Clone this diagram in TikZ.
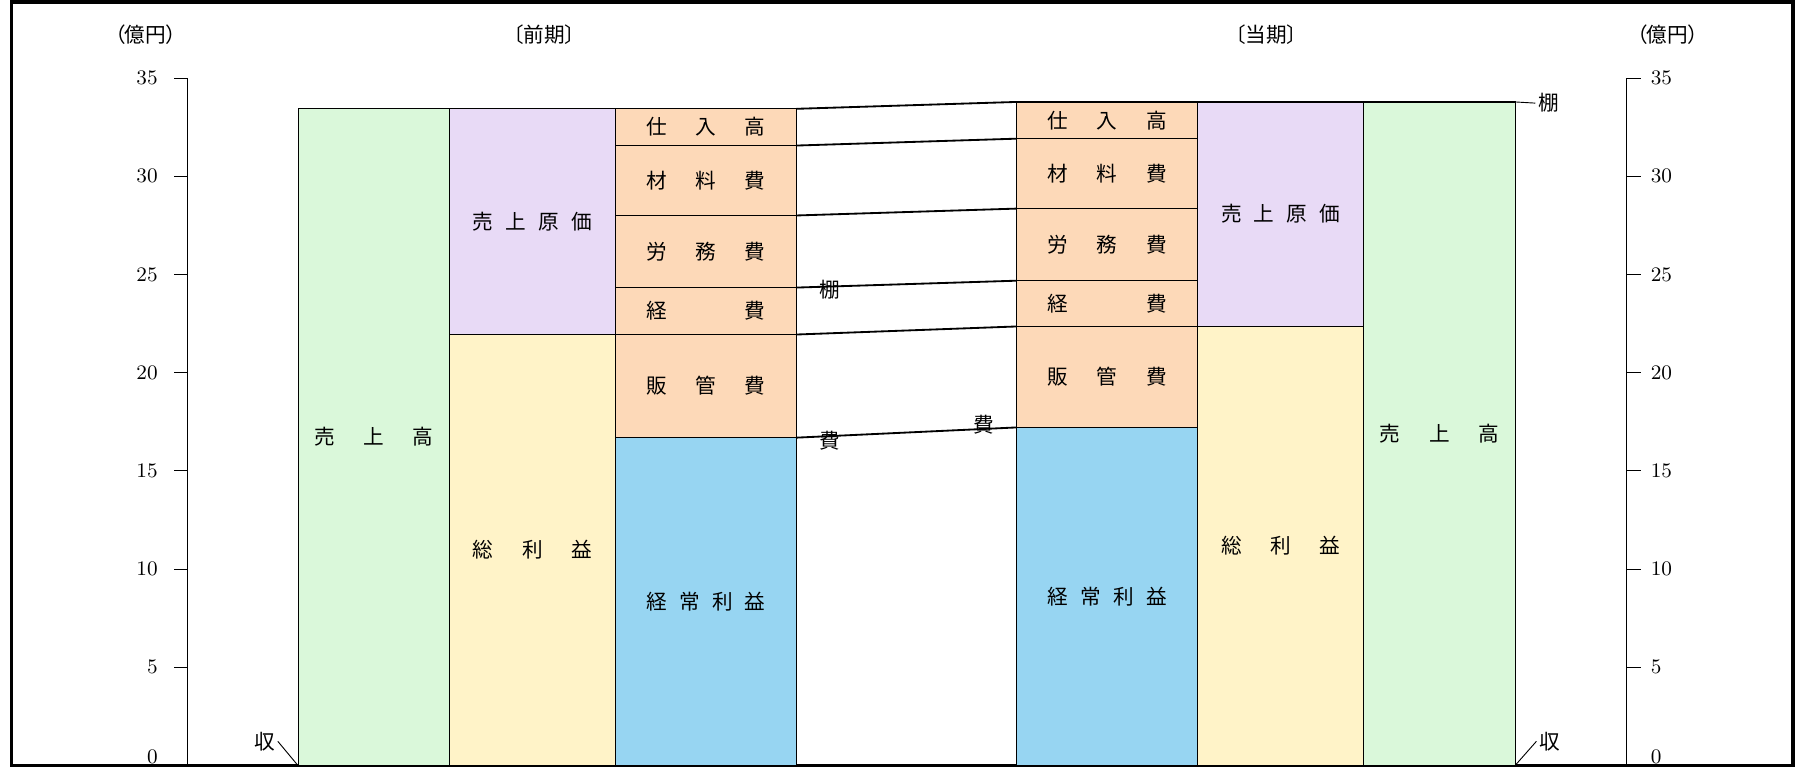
\documentclass[tikz,border=0pt]{standalone}
\usepackage{fontspec}
\newfontfamily\jp{Noto Sans CJK JP}
\newfontfamily\jpp[RawFeature=+palt]{Noto Sans CJK JP}
\newcommand\spread[1]{\makebox[52pt][s]{#1}}
\definecolor{uriage}{RGB}{218,248,218}
\definecolor{genka}{RGB}{232,218,246}
\definecolor{rieki}{RGB}{255,243,200}
\definecolor{hiyou}{RGB}{253,217,184}
\definecolor{keijou}{RGB}{151,213,242}
\tikzset{
  box/.style={draw=black, line width=0.4pt},
  lbl/.style={font=\jp\fontsize{9}{10}\selectfont, inner sep=1pt},
  ttl/.style={font=\jpp\fontsize{9}{10}\selectfont, inner sep=1pt},
  num/.style={font=\fontsize{9}{10}\selectfont, inner sep=1pt},
  link/.style={line width=0.8pt},
}
\begin{document}
\begin{tikzpicture}[x=0.5pt, y=8.57pt]
  \useasboundingbox (0,-0.12) rectangle (1568,38.97);
  \draw[line width=1.5pt] (10,0) rectangle (1564.5,38.86);
  % axes
  \draw (164,0) -- (164,35) -- (152,35);
  \draw (1419,0) -- (1419,35) -- (1432,35);
  \foreach \v in {0,5,...,30} {
    \draw (152,\v) -- (164,\v);
    \draw (1419,\v) -- (1432,\v);
  }
  \foreach \v in {5,10,...,35} {
    \node[num, anchor=east] (l\v) at (140,\v) {\v};
    \node[num, anchor=west] (r\v) at (1438,\v) {\v};
  }
  \node[num, anchor=east] (l0) at (140,0.45) {0};
  \node[num, anchor=west] (r0) at (1438,0.45) {0};
  \node[ttl] (unitL) at (127,37.22) {（億円）};
  \node[ttl] (zenki) at (475,37.22) {〔前期〕};
  \node[ttl] (touki) at (1105,37.22) {〔当期〕};
  \node[ttl] (unitR) at (1455,37.22) {（億円）};
  % previous period
  \draw[box, fill=uriage] (260,0) rectangle (392,33.43);
  \node[lbl] (uriP) at (326,16.72) {\spread{売 上 高}};
  \draw[box, fill=genka] (392,21.94) rectangle (537,33.43);
  \node[lbl] (genP) at (464.5,27.69) {\spread{売 上 原 価}};
  \draw[box, fill=rieki] (392,0) rectangle (537,21.94);
  \node[lbl] (soP) at (464.5,10.97) {\spread{総 利 益}};
  \draw[box, fill=hiyou] (537,31.56) rectangle (695,33.43);
  \node[lbl] (shiP) at (616,32.5) {\spread{仕 入 高}};
  \draw[box, fill=hiyou] (537,28.0) rectangle (695,31.56);
  \node[lbl] (zaiP) at (616,29.78) {\spread{材 料 費}};
  \draw[box, fill=hiyou] (537,24.33) rectangle (695,28.0);
  \node[lbl] (romP) at (616,26.17) {\spread{労 務 費}};
  \draw[box, fill=hiyou] (537,21.94) rectangle (695,24.33);
  \node[lbl] (keiP) at (616,23.14) {\spread{経 費}};
  \draw[box, fill=hiyou] (537,16.69) rectangle (695,21.94);
  \node[lbl] (hanP) at (616,19.32) {\spread{販 管 費}};
  \draw[box, fill=keijou] (537,0) rectangle (695,16.69);
  \node[lbl] (kjoP) at (616,8.35) {\spread{経 常 利 益}};
  % current period
  \draw[box, fill=hiyou] (887,31.91) rectangle (1045,33.78);
  \node[lbl] (shiC) at (966,32.85) {\spread{仕 入 高}};
  \draw[box, fill=hiyou] (887,28.35) rectangle (1045,31.91);
  \node[lbl] (zaiC) at (966,30.13) {\spread{材 料 費}};
  \draw[box, fill=hiyou] (887,24.68) rectangle (1045,28.35);
  \node[lbl] (romC) at (966,26.52) {\spread{労 務 費}};
  \draw[box, fill=hiyou] (887,22.35) rectangle (1045,24.68);
  \node[lbl] (keiC) at (966,23.52) {\spread{経 費}};
  \draw[box, fill=hiyou] (887,17.21) rectangle (1045,22.35);
  \node[lbl] (hanC) at (966,19.78) {\spread{販 管 費}};
  \draw[box, fill=keijou] (887,0) rectangle (1045,17.21);
  \node[lbl] (kjoC) at (966,8.6) {\spread{経 常 利 益}};
  \draw[box, fill=genka] (1045,22.35) rectangle (1190,33.78);
  \node[lbl] (genC) at (1117.5,28.07) {\spread{売 上 原 価}};
  \draw[box, fill=rieki] (1045,0) rectangle (1190,22.35);
  \node[lbl] (soC) at (1117.5,11.18) {\spread{総 利 益}};
  \draw[box, fill=uriage] (1190,0) rectangle (1322,33.78);
  \node[lbl] (uriC) at (1256,16.89) {\spread{売 上 高}};
  % links
  \foreach \i/\p/\c in {0/33.43/33.78, 1/31.56/31.91, 2/28.0/28.35,
                        3/24.33/24.68, 4/21.94/22.35, 5/16.69/17.21} {
    \coordinate (pr\i) at (695,\p);
    \coordinate (cu\i) at (887,\c);
    \draw[link] (pr\i) -- (cu\i);
  }
  \coordinate (topR) at (1322,33.78);
  \coordinate (botL) at (260,0);
  \coordinate (botR) at (1322,0);
  \draw[link] (cu0) -- (topR);
  \node[lbl] (tanaL) at (724,24.21) {棚};
  \node[lbl] (tanaR) at (1351,33.72) {棚};
  \node[lbl] (hiL) at (724,16.51) {費};
  \node[lbl] (hiR) at (858,17.33) {費};
  \node[lbl] (shuL) at (231,1.23) {収};
  \node[lbl] (shuR) at (1352,1.23) {収};
  \draw (topR) -- (tanaR.west);
  \draw (shuL.east) -- (botL);
  \draw (shuR.west) -- (botR);
\end{tikzpicture}
\end{document}
